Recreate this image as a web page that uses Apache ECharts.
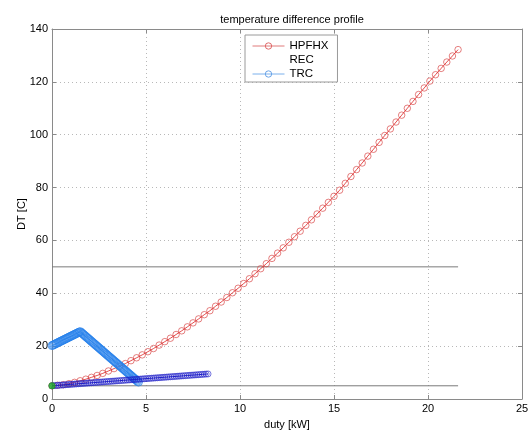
<!DOCTYPE html>
<html>
<head>
<meta charset="utf-8">
<script src="https://cdn.jsdelivr.net/npm/echarts@6/dist/echarts.min.js"></script>
<style>
  html, body { margin: 0; padding: 0; background: #ffffff; }
  #chart { width: 531px; height: 430px; }
</style>
</head>
<body>
<div id="chart"></div>
<script>
// Axis ticks
const xTicks = [0, 5, 10, 15, 20, 25];
const yTicks = [0, 20, 40, 60, 80, 100, 120, 140];

// HPFHX: duty [kW] vs temperature difference [C]
const hpfhxDuty = [0,0.3,0.6,0.9,1.2,1.5,1.8,2.1,2.4,2.7,3.0,3.3,3.6,3.9,4.2,4.5,4.8,5.1,5.4,5.7,6.0,6.3,6.6,6.9,7.2,7.5,7.8,8.1,8.4,8.7,9.0,9.3,9.6,9.9,10.2,10.5,10.8,11.1,11.4,11.7,12.0,12.3,12.6,12.9,13.2,13.5,13.8,14.1,14.4,14.7,15.0,15.3,15.6,15.9,16.2,16.5,16.8,17.1,17.4,17.7,18.0,18.3,18.6,18.9,19.2,19.5,19.8,20.1,20.4,20.7,21.0,21.3,21.6];
const hpfhxDT = [5.0,5.2,5.4,5.8,6.3,6.9,7.5,8.2,8.9,9.7,10.6,11.5,12.4,13.4,14.5,15.6,16.7,17.9,19.1,20.4,21.7,23.0,24.4,25.8,27.3,28.8,30.3,31.9,33.4,35.1,36.7,38.4,40.2,41.9,43.7,45.5,47.4,49.3,51.2,53.2,55.2,57.2,59.3,61.4,63.5,65.7,67.8,70.0,72.2,74.4,76.7,79.0,81.6,84.2,86.8,89.3,91.9,94.5,97.1,99.7,102.2,104.8,107.4,110.0,112.6,115.2,117.7,120.3,122.7,125.1,127.5,129.8,132.2];

// TRC: rise to a peak, then fall
const trcDuty = [0,0.05,0.1,0.15,0.2,0.25,0.3,0.35,0.4,0.45,0.5,0.55,0.6,0.65,0.7,0.75,0.8,0.85,0.9,0.95,1.0,1.05,1.1,1.15,1.2,1.25,1.3,1.35,1.4,1.45,1.5,
  1.55,1.6,1.65,1.7,1.75,1.8,1.85,1.9,1.95,2.0,2.05,2.1,2.15,2.2,2.25,2.3,2.35,2.4,2.45,2.5,2.55,2.6,2.65,2.7,2.75,2.8,2.85,2.9,2.95,3.0,
  3.05,3.1,3.15,3.2,3.25,3.3,3.35,3.4,3.45,3.5,3.55,3.6,3.65,3.7,3.75,3.8,3.85,3.9,3.95,4.0,4.05,4.1,4.15,4.2,4.25,4.3,4.35,4.4,4.45,4.5,4.55,4.6];
const trcDT = [20.20,20.38,20.55,20.73,20.91,21.08,21.26,21.44,21.61,21.79,21.97,22.14,22.32,22.50,22.67,22.85,23.03,23.20,23.38,23.56,23.73,23.91,24.09,24.26,24.44,24.62,24.79,24.97,25.15,25.32,25.50,
  25.19,24.88,24.58,24.27,23.96,23.65,23.34,23.04,22.73,22.42,22.11,21.80,21.50,21.19,20.88,20.57,20.26,19.96,19.65,19.34,19.03,18.72,18.42,18.11,17.80,17.49,17.18,16.88,16.57,16.26,
  15.95,15.64,15.34,15.03,14.72,14.41,14.10,13.80,13.49,13.18,12.87,12.56,12.26,11.95,11.64,11.33,11.02,10.72,10.41,10.10,9.79,9.48,9.18,8.87,8.56,8.25,7.94,7.64,7.33,7.02,6.71,6.40];

// second cold-side profile (not in legend)
const lowDuty = [0,0.1,0.2,0.3,0.4,0.5,0.6,0.7,0.8,0.9,1.0,1.1,1.2,1.3,1.4,1.5,1.6,1.7,1.8,1.9,2.0,2.1,2.2,2.3,2.4,2.5,2.6,2.7,2.8,2.9,3.0,3.1,3.2,3.3,3.4,3.5,3.6,3.7,3.8,3.9,4.0,4.1,
  4.2,4.3,4.4,4.5,4.6,4.7,4.8,4.9,5.0,5.1,5.2,5.3,5.4,5.5,5.6,5.7,5.8,5.9,6.0,6.1,6.2,6.3,6.4,6.5,6.6,6.7,6.8,6.9,7.0,7.1,7.2,7.3,7.4,7.5,7.6,7.7,7.8,7.9,8.0,8.1,8.2,8.3];
const lowDT = [5.00,5.05,5.11,5.16,5.22,5.27,5.32,5.38,5.43,5.49,5.54,5.59,5.65,5.70,5.76,5.81,5.86,5.92,5.97,6.03,6.08,6.13,6.19,6.24,6.30,6.35,6.40,6.46,6.51,6.57,6.62,6.67,6.73,6.78,6.84,6.89,6.94,7.00,7.05,7.11,7.16,7.21,
  7.27,7.32,7.38,7.43,7.48,7.54,7.59,7.65,7.70,7.75,7.81,7.86,7.92,7.97,8.02,8.08,8.13,8.19,8.24,8.29,8.35,8.40,8.46,8.51,8.56,8.62,8.67,8.73,8.78,8.83,8.89,8.94,9.00,9.05,9.10,9.16,9.21,9.27,9.32,9.37,9.43,9.48];

// start point and minimum-approach reference lines
const startPoint = [0, 5];
const refLevels = [5, 50];
const refSpan = [0, 21.6];

const pairs = (xs, ys) => xs.map((x, i) => [x, ys[i]]);

const font = 'Liberation Sans, Arial, sans-serif';
const axisColor = '#8a8a8a';
const gridLine = { show: true, lineStyle: { color: '#b8b8b8', type: [1, 3], width: 1 } };

const chart = echarts.init(document.getElementById('chart'), null, { renderer: 'canvas' });

const refSeries = refLevels.map(level => ({
  type: 'line',
  xAxisIndex: 0, yAxisIndex: 0,
  data: refSpan.map(x => [x, level]),
  symbol: 'none',
  silent: true,
  lineStyle: { color: '#7a7a7a', width: 1 },
  z: 1
}));

chart.setOption({
  animation: false,
  backgroundColor: '#ffffff',
  title: {
    text: 'temperature difference profile',
    left: 287, top: 9, textAlign: 'center',
    textStyle: { fontFamily: font, fontSize: 11, fontWeight: 'normal', color: '#000' }
  },
  grid: { left: 52, right: 9, top: 29, bottom: 31, containLabel: false, outerBoundsMode: 'none' },
  legend: {
    orient: 'vertical',
    left: 245, top: 35,
    padding: [5, 9, 2, 7],
    itemGap: 2,
    itemWidth: 32, itemHeight: 8,
    backgroundColor: '#ffffff',
    borderColor: '#9a9a9a', borderWidth: 1, borderRadius: 0,
    lineStyle: { width: 1 },
    textStyle: { fontFamily: font, fontSize: 11.5, lineHeight: 12, color: '#000' },
    data: [
      { name: 'HPFHX', itemStyle: { color: 'transparent', borderColor: '#e06a6a', borderWidth: 1 }, lineStyle: { color: '#e07a7a', width: 1 } },
      { name: 'REC', itemStyle: { color: 'transparent', borderColor: 'transparent', opacity: 0 }, lineStyle: { color: 'transparent', opacity: 0 } },
      { name: 'TRC', itemStyle: { color: 'transparent', borderColor: '#6aa4e8', borderWidth: 1 }, lineStyle: { color: '#7ab0ec', width: 1 } }
    ]
  },
  xAxis: [
    {
      type: 'value', min: 0, max: 25, interval: 5, position: 'bottom',
      name: 'duty [kW]', nameLocation: 'middle', nameGap: 20, nameMoveOverlap: false,
      nameTextStyle: { fontFamily: font, fontSize: 11, color: '#000', verticalAlign: 'top' },
      axisLine: { show: true, onZero: false, lineStyle: { color: axisColor } },
      axisTick: { show: true, inside: true, length: 4, lineStyle: { color: axisColor } },
      axisLabel: { fontFamily: font, fontSize: 11, color: '#000', margin: 4,
        customValues: xTicks },
      splitLine: gridLine
    },
    {
      type: 'value', min: 0, max: 25, interval: 5, position: 'top',
      axisLine: { show: true, onZero: false, lineStyle: { color: axisColor } },
      axisTick: { show: true, inside: true, length: 4, lineStyle: { color: axisColor } },
      axisLabel: { show: false }, splitLine: { show: false }
    }
  ],
  yAxis: [
    {
      type: 'value', min: 0, max: 140, interval: 20, position: 'left',
      name: 'DT [C]', nameLocation: 'middle', nameGap: 25, nameRotate: 90, nameMoveOverlap: false,
      nameTextStyle: { fontFamily: font, fontSize: 11, color: '#000' },
      axisLine: { show: true, onZero: false, lineStyle: { color: axisColor } },
      axisTick: { show: true, inside: true, length: 4, lineStyle: { color: axisColor } },
      axisLabel: { fontFamily: font, fontSize: 11, color: '#000', margin: 4,
        customValues: yTicks },
      splitLine: gridLine
    },
    {
      type: 'value', min: 0, max: 140, interval: 20, position: 'right',
      axisLine: { show: true, onZero: false, lineStyle: { color: axisColor } },
      axisTick: { show: true, inside: true, length: 4, lineStyle: { color: axisColor } },
      axisLabel: { show: false }, splitLine: { show: false }
    }
  ],
  series: [
    {
      name: 'HPFHX', type: 'line', xAxisIndex: 0, yAxisIndex: 0,
      data: pairs(hpfhxDuty, hpfhxDT),
      symbol: 'circle', symbolSize: 6.5, showAllSymbol: true,
      lineStyle: { color: '#dd2020', width: 0.8 },
      itemStyle: { color: 'transparent', borderColor: 'rgba(215,60,60,0.65)', borderWidth: 1 },
      z: 3
    },
    {
      name: 'REC', type: 'line', xAxisIndex: 0, yAxisIndex: 0,
      data: [], symbol: 'none'
    },
    {
      name: 'TRC', type: 'line', xAxisIndex: 0, yAxisIndex: 0,
      data: pairs(trcDuty, trcDT),
      symbol: 'circle', symbolSize: 8, showAllSymbol: true,
      lineStyle: { color: '#2f86ea', width: 1 },
      itemStyle: { color: 'transparent', borderColor: 'rgba(40,130,235,0.75)', borderWidth: 1 },
      z: 4
    },
    {
      type: 'line', xAxisIndex: 0, yAxisIndex: 0,
      data: pairs(lowDuty, lowDT),
      symbol: 'circle', symbolSize: 6, showAllSymbol: true,
      lineStyle: { color: '#1c1cc8', width: 1 },
      itemStyle: { color: 'transparent', borderColor: 'rgba(30,30,200,0.6)', borderWidth: 1 },
      z: 5
    },
    ...refSeries,
    {
      type: 'scatter', xAxisIndex: 0, yAxisIndex: 0,
      data: [startPoint],
      symbol: 'circle', symbolSize: 7,
      itemStyle: { color: '#1faa1f' },
      z: 6
    }
  ]
});
</script>
</body>
</html>
